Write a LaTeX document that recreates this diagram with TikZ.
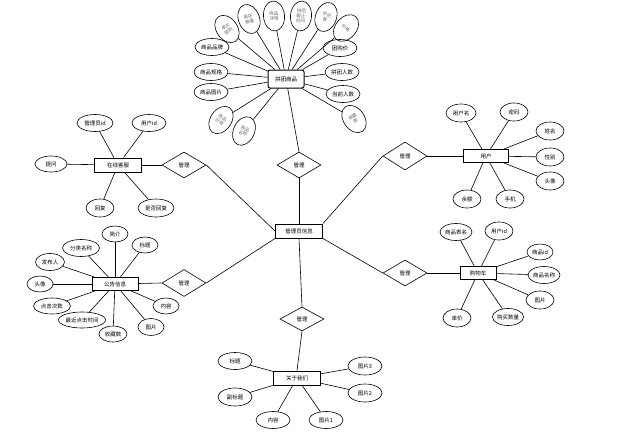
\documentclass[tikz,border=0pt]{standalone}
\usepackage{fontspec}
\newfontfamily\cjk{Noto Sans CJK SC}
\usetikzlibrary{shapes.geometric}
\begin{document}
\begin{tikzpicture}[x=1pt,y=-1pt,
  every node/.append style={font=\cjk\fontsize{5.5}{6}\selectfont, inner sep=0pt},
  attr/.style={draw, ellipse, line width=0.6pt, minimum width=34pt, minimum height=17pt},
  vattr/.style={draw, ellipse, line width=0.6pt, minimum width=21pt, minimum height=30pt, align=center, text=black!60, font=\cjk\fontsize{4.5}{5.2}\selectfont},
  ent/.style={draw, rectangle, line width=1pt, minimum width=47pt, minimum height=14pt},
  rel/.style={draw, diamond, line width=0.6pt, minimum width=44pt, minimum height=26pt},
  link/.style={line width=0.6pt}]
\useasboundingbox (0,0) rectangle (622,439);
% central entity
\node[ent] (admin) at (299,231) {管理员信息};
% group-buy goods
\node[ent, rounded corners=2pt, minimum width=36pt, minimum height=18pt] (goods) at (286,79) {拼团商品};
\node[vattr, rotate=35] (g1) at (227,29) {单次\\限购};
\node[vattr, rotate=20] (g2) at (249,19) {库存\\数量};
\node[vattr, rotate=5] (g3) at (274,16) {商品\\详情};
\node[vattr, rotate=-5] (g4) at (301,16) {拼团\\截止\\时间};
\node[vattr, rotate=-20] (g5) at (326,17) {评论\\数};
\node[vattr, rotate=-40] (g6) at (346,28) {价格};
\node[attr] (g7) at (212,47) {商品品牌};
\node[attr] (g8) at (211,72) {商品规格};
\node[attr] (g9) at (211,92) {商品图片};
\node[vattr, rotate=-35] (g10) at (221,120) {商品\\分类};
\node[vattr, rotate=-25] (g11) at (244,131) {商品\\名称};
\node[attr] (g12) at (340,48) {团购价};
\node[attr] (g13) at (342,72) {拼团人数};
\node[attr] (g14) at (343,94) {当前人数};
\node[vattr, rotate=35] (g15) at (354,119) {收藏\\数};
\foreach \i in {1,...,15} \draw[link] (goods) -- (g\i);
\node[rel] (r1) at (299,165) {管理};
\draw[link] (goods) -- (r1.north);
\draw[link] (r1.south) -- (admin.north);
% online service
\node[ent] (chat) at (118,165) {在线客服};
\node[attr, minimum width=36pt] (c1) at (95,123) {管理员id};
\node[attr] (c2) at (149,123) {用户id};
\node[attr, minimum width=32pt, minimum height=16pt] (c3) at (51,164) {提问};
\node[attr, minimum width=28pt, minimum height=18pt] (c4) at (100,208) {回复};
\node[attr, minimum width=36pt, minimum height=18pt] (c5) at (156,208) {是否回复};
\foreach \i in {1,...,5} \draw[link] (chat) -- (c\i);
\node[rel] (r2) at (184,165) {管理};
\draw[link] (chat) -- (r2.west);
\draw[link] (r2.east) -- (admin.west);
% user
\node[ent, minimum width=45pt, minimum height=13pt] (user) at (486,156) {用户};
\node[attr, minimum width=30pt, minimum height=18pt] (u1) at (461,113) {用户名};
\node[attr, minimum width=28pt, minimum height=18pt] (u2) at (514,112) {密码};
\node[attr, minimum width=28pt, minimum height=18pt] (u3) at (550,131) {姓名};
\node[attr, minimum width=28pt, minimum height=18pt] (u4) at (550,157) {性别};
\node[attr, minimum width=28pt, minimum height=18pt] (u5) at (550,181) {头像};
\node[attr, minimum width=28pt, minimum height=18pt] (u6) at (467,199) {余额};
\node[attr, minimum width=28pt, minimum height=18pt] (u7) at (510,199) {手机};
\foreach \i in {1,...,7} \draw[link] (user) -- (u\i);
\node[rel, minimum height=28pt] (r3) at (405,156) {管理};
\draw[link] (r3.east) -- (user);
\draw[link] (admin.north east) -- (r3.west);
% cart
\node[ent, minimum width=36pt, minimum height=13pt] (cart) at (478,273) {购物车};
\node[attr, minimum width=32pt] (k1) at (456,232) {商品表名};
\node[attr, minimum width=28pt, minimum height=18pt] (k2) at (499,231) {用户id};
\node[attr, minimum width=26pt, minimum height=16pt] (k3) at (540,252) {商品id};
\node[attr, minimum width=32pt] (k4) at (544,275) {商品名称};
\node[attr, minimum width=28pt, minimum height=18pt] (k5) at (540,300) {图片};
\node[attr, minimum width=30pt] (k6) at (508,317) {购买数量};
\node[attr, minimum width=28pt, minimum height=18pt] (k7) at (457,318) {单价};
\foreach \i in {1,...,7} \draw[link] (cart) -- (k\i);
\node[rel] (r4) at (405,273) {管理};
\draw[link] (r4.east) -- (cart);
\draw[link] (admin.south east) -- (r4.west);
% about us
\node[ent] (about) at (297,378) {关于我们};
\node[attr] (a1) at (235,361) {标题};
\node[attr, minimum height=18pt] (a2) at (235,397) {副标题};
\node[attr] (a3) at (273,420) {内容};
\node[attr] (a4) at (326,420) {图片1};
\node[attr, minimum height=18pt] (a5) at (365,366) {图片3};
\node[attr, minimum height=18pt] (a6) at (365,393) {图片2};
\foreach \i in {1,...,6} \draw[link] (about) -- (a\i);
\node[rel, minimum height=24pt] (r5) at (302,319) {管理};
\draw[link] (admin.south) -- (r5.north);
\draw[link] (r5.south) -- (about.north);
% notice
\node[ent, minimum width=46pt, minimum height=13pt] (news) at (115,284) {公告信息};
\node[attr, minimum width=26pt, minimum height=16pt] (n1) at (115,234) {简介};
\node[attr, minimum width=37pt] (n2) at (81,248) {分类名称};
\node[attr, minimum width=26pt, minimum height=16pt] (n3) at (145,245) {标题};
\node[attr, minimum width=29pt] (n4) at (50,262) {发布人};
\node[attr, minimum width=26pt, minimum height=16pt] (n5) at (40,284) {头像};
\node[attr, minimum width=37pt, minimum height=16pt] (n6) at (52,306) {点击次数};
\node[attr, minimum width=47pt, minimum height=16pt] (n7) at (82,320) {最近点击时间};
\node[attr, minimum width=28pt, minimum height=16pt] (n8) at (113,334) {收藏数};
\node[attr, minimum width=26pt, minimum height=17pt] (n9) at (151,327) {图片};
\node[attr, minimum width=26pt, minimum height=16pt] (n10) at (166,306) {内容};
\foreach \i in {1,...,10} \draw[link] (news) -- (n\i);
\node[rel, minimum height=27pt] (r6) at (184,283) {管理};
\draw[link] (news) -- (r6.west);
\draw[link] (r6.east) -- (admin.south west);
\end{tikzpicture}
\end{document}
